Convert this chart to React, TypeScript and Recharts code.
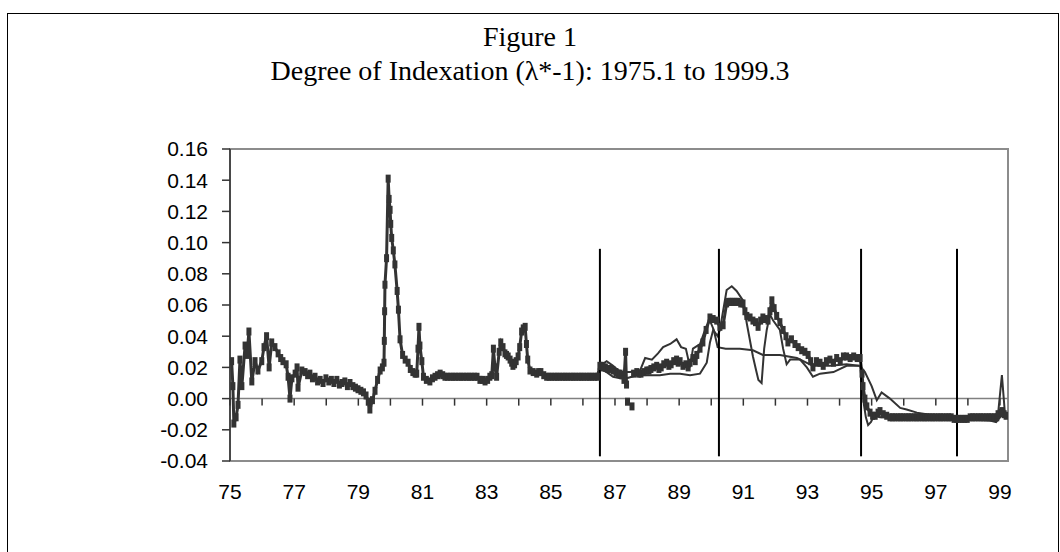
import React from "react";
import {
  LineChart,
  Line,
  XAxis,
  YAxis,
  ReferenceLine,
  ReferenceArea,
} from "recharts";

type Pt = [number, number | null];

// thick series with square markers, 1975.1-1999.3 (decimal years)
const index7579: Pt[] = [
  [1975.05, 0.024], [1975.09, 0.008], [1975.12, -0.016], [1975.19, -0.012], [1975.25, -0.004],
  [1975.31, 0.025], [1975.37, 0.008], [1975.47, 0.034], [1975.53, 0.028], [1975.59, 0.043],
  [1975.68, 0.011], [1975.78, 0.024], [1975.87, 0.018], [1975.99, 0.024], [1976.06, 0.033],
  [1976.14, 0.04], [1976.22, 0.02], [1976.3, 0.036], [1976.4, 0.033], [1976.5, 0.029],
  [1976.58, 0.026], [1976.65, 0.024], [1976.75, 0.022], [1976.81, 0.014], [1976.87, 0.0],
  [1976.93, 0.013], [1977.03, 0.016], [1977.09, 0.02], [1977.12, 0.007], [1977.24, 0.018],
  [1977.34, 0.017], [1977.42, 0.015], [1977.49, 0.016], [1977.57, 0.013], [1977.65, 0.014],
  [1977.73, 0.011], [1977.81, 0.012], [1977.9, 0.01], [1977.99, 0.013], [1978.08, 0.011],
  [1978.16, 0.012], [1978.24, 0.01], [1978.33, 0.012], [1978.41, 0.009], [1978.49, 0.01],
  [1978.58, 0.011], [1978.66, 0.008], [1978.74, 0.01], [1978.83, 0.008], [1978.91, 0.007],
  [1978.99, 0.006], [1979.08, 0.005], [1979.16, 0.004], [1979.24, 0.002], [1979.31, -0.002],
  [1979.36, -0.007], [1979.44, -0.001], [1979.52, 0.005], [1979.6, 0.012], [1979.68, 0.018],
  [1979.75, 0.02], [1979.8, 0.023],
];

const index7981: Pt[] = [
  [1979.81, 0.037], [1979.82, 0.056], [1979.83, 0.073], [1979.88, 0.09], [1979.93, 0.141],
  [1979.96, 0.128], [1979.99, 0.121], [1980.01, 0.112], [1980.04, 0.103], [1980.09, 0.095],
  [1980.14, 0.086], [1980.21, 0.069], [1980.25, 0.057], [1980.3, 0.038], [1980.38, 0.028],
  [1980.46, 0.025], [1980.55, 0.023], [1980.62, 0.019], [1980.7, 0.017], [1980.77, 0.016],
  [1980.82, 0.016], [1980.86, 0.032], [1980.89, 0.046], [1980.92, 0.034], [1980.98, 0.024],
  [1981.03, 0.014],
];

const index8186: Pt[] = [
  [1981.12, 0.012], [1981.23, 0.011], [1981.31, 0.013], [1981.39, 0.014], [1981.47, 0.015],
  [1981.55, 0.016], [1981.63, 0.015], [1981.7, 0.014], [1981.78, 0.014], [1981.87, 0.014],
  [1981.95, 0.014], [1982.03, 0.014], [1982.12, 0.014], [1982.2, 0.014], [1982.28, 0.014],
  [1982.37, 0.014], [1982.45, 0.014], [1982.53, 0.014], [1982.62, 0.014], [1982.7, 0.014],
  [1982.79, 0.012], [1982.87, 0.012], [1982.95, 0.011], [1983.03, 0.012], [1983.1, 0.014],
  [1983.16, 0.015], [1983.21, 0.032], [1983.26, 0.02], [1983.31, 0.014], [1983.39, 0.03],
  [1983.44, 0.036], [1983.51, 0.033], [1983.57, 0.029], [1983.62, 0.028], [1983.67, 0.027],
  [1983.73, 0.025], [1983.78, 0.023], [1983.82, 0.021], [1983.87, 0.022], [1983.92, 0.024],
  [1983.98, 0.027], [1984.03, 0.033], [1984.09, 0.043], [1984.14, 0.045], [1984.2, 0.046],
  [1984.24, 0.035], [1984.28, 0.025], [1984.35, 0.018], [1984.45, 0.017], [1984.56, 0.016],
  [1984.62, 0.017], [1984.69, 0.017], [1984.78, 0.015], [1984.87, 0.014], [1984.95, 0.014],
  [1985.03, 0.014], [1985.12, 0.014], [1985.2, 0.014], [1985.28, 0.014], [1985.37, 0.014],
  [1985.45, 0.014], [1985.53, 0.014], [1985.62, 0.014], [1985.7, 0.014], [1985.78, 0.014],
  [1985.87, 0.014], [1985.95, 0.014], [1986.03, 0.014], [1986.12, 0.014], [1986.2, 0.014],
  [1986.28, 0.014], [1986.37, 0.014], [1986.45, 0.014],
];

const index8690: Pt[] = [
  [1986.53, 0.021], [1986.58, 0.021], [1986.63, 0.02], [1986.7, 0.02], [1986.78, 0.019],
  [1986.86, 0.019], [1986.94, 0.018], [1987.03, 0.017], [1987.1, 0.016], [1987.16, 0.016],
  [1987.22, 0.015], [1987.28, 0.012], [1987.33, 0.03], [1987.36, 0.009], [1987.37, null],
  [1987.39, -0.002], [1987.41, null], [1987.53, -0.005], [1987.55, null], [1987.58, 0.016],
  [1987.68, 0.017], [1987.74, 0.016], [1987.81, 0.016], [1987.9, 0.017], [1987.99, 0.018],
  [1988.06, 0.018], [1988.12, 0.019], [1988.21, 0.02], [1988.3, 0.021], [1988.37, 0.019],
  [1988.44, 0.02], [1988.52, 0.022], [1988.61, 0.023], [1988.68, 0.021], [1988.75, 0.022],
  [1988.83, 0.024], [1988.92, 0.025], [1988.97, 0.023], [1989.03, 0.024], [1989.12, 0.021],
  [1989.21, 0.022], [1989.28, 0.02], [1989.34, 0.023], [1989.43, 0.026], [1989.5, 0.024],
  [1989.55, 0.028], [1989.65, 0.032], [1989.74, 0.036], [1989.84, 0.044], [1989.96, 0.052],
  [1990.06, 0.051], [1990.17, 0.05], [1990.27, 0.046], [1990.37, 0.047],
];

const index9095: Pt[] = [
  [1990.48, 0.061], [1990.54, 0.062], [1990.59, 0.062], [1990.65, 0.062], [1990.71, 0.062],
  [1990.78, 0.062], [1990.84, 0.062], [1990.92, 0.061], [1990.99, 0.061], [1991.05, 0.056],
  [1991.11, 0.053], [1991.21, 0.052], [1991.3, 0.05], [1991.38, 0.049], [1991.46, 0.046],
  [1991.54, 0.05], [1991.61, 0.052], [1991.69, 0.051], [1991.77, 0.05], [1991.83, 0.056],
  [1991.89, 0.063], [1991.96, 0.058], [1992.04, 0.053], [1992.14, 0.049], [1992.24, 0.044],
  [1992.33, 0.04], [1992.39, 0.036], [1992.5, 0.038], [1992.61, 0.035], [1992.71, 0.033],
  [1992.82, 0.031], [1992.92, 0.03], [1993.02, 0.028], [1993.1, 0.024], [1993.17, 0.02],
  [1993.28, 0.024], [1993.39, 0.023], [1993.49, 0.021], [1993.59, 0.024], [1993.7, 0.025],
  [1993.81, 0.023], [1993.91, 0.026], [1994.02, 0.024], [1994.12, 0.027], [1994.22, 0.027],
  [1994.33, 0.026], [1994.44, 0.027], [1994.55, 0.026], [1994.64, 0.026], [1994.7, 0.016],
  [1994.73, 0.008], [1994.79, 0.0], [1994.85, -0.005], [1994.95, -0.009], [1995.03, -0.011],
  [1995.11, -0.011], [1995.2, -0.009], [1995.26, -0.008], [1995.36, -0.01], [1995.47, -0.011],
  [1995.57, -0.012],
];

const index9599: Pt[] = [
  [1995.65, -0.012], [1995.73, -0.012], [1995.82, -0.012], [1995.9, -0.012], [1995.98, -0.012],
  [1996.07, -0.012], [1996.15, -0.012], [1996.23, -0.012], [1996.32, -0.012], [1996.4, -0.012],
  [1996.48, -0.012], [1996.57, -0.012], [1996.65, -0.012], [1996.73, -0.012], [1996.82, -0.012],
  [1996.9, -0.012], [1996.98, -0.012], [1997.07, -0.012], [1997.15, -0.012], [1997.23, -0.012],
  [1997.32, -0.012], [1997.4, -0.012], [1997.48, -0.012], [1997.57, -0.013], [1997.65, -0.013],
  [1997.73, -0.013], [1997.82, -0.013], [1997.9, -0.013], [1997.98, -0.013], [1998.07, -0.012],
  [1998.15, -0.012], [1998.23, -0.012], [1998.32, -0.012], [1998.4, -0.012], [1998.48, -0.012],
  [1998.57, -0.012], [1998.65, -0.012], [1998.73, -0.012], [1998.82, -0.012], [1998.9, -0.012],
  [1998.94, -0.01], [1999.02, -0.009], [1999.06, -0.008], [1999.13, -0.01], [1999.19, -0.011],
];

// thin alternative estimates, from mid-1986
const altUpper: Pt[] = [
  [1986.53, 0.021], [1986.74, 0.024], [1986.94, 0.021], [1987.16, 0.017], [1987.47, 0.017],
  [1987.78, 0.018], [1987.94, 0.026], [1988.15, 0.025], [1988.34, 0.029], [1988.5, 0.033],
  [1988.72, 0.035], [1988.92, 0.038], [1989.06, 0.033], [1989.21, 0.032], [1989.34, 0.02],
  [1989.43, 0.032], [1989.65, 0.035], [1989.84, 0.046], [1989.96, 0.05], [1990.08, 0.044],
  [1990.2, 0.033], [1990.45, 0.032], [1990.89, 0.032], [1991.3, 0.031], [1991.61, 0.028],
  [1992.14, 0.028], [1992.67, 0.026], [1993.17, 0.021], [1993.7, 0.021], [1994.22, 0.022],
  [1994.64, 0.021], [1994.79, 0.017], [1995.0, 0.008], [1995.16, -0.001], [1995.31, 0.004],
  [1995.57, 0.0], [1995.89, -0.006], [1996.09, -0.007], [1996.41, -0.009], [1996.71, -0.01],
  [1997.02, -0.011], [1997.65, -0.012], [1998.38, -0.013], [1998.79, -0.014], [1998.94, -0.01],
  [1999.06, 0.015], [1999.16, -0.011], [1999.19, -0.012],
];

const altLower: Pt[] = [
  [1986.53, 0.019], [1986.74, 0.017], [1986.94, 0.014], [1987.16, 0.013], [1987.37, 0.013],
  [1987.68, 0.015], [1987.99, 0.015], [1988.4, 0.015], [1988.72, 0.016], [1989.03, 0.016],
  [1989.34, 0.015], [1989.65, 0.016], [1989.86, 0.023], [1989.96, 0.036], [1990.06, 0.044],
  [1990.2, 0.04], [1990.27, 0.044], [1990.48, 0.0696], [1990.64, 0.072], [1990.79, 0.069],
  [1990.99, 0.063], [1991.11, 0.048], [1991.3, 0.027], [1991.4, 0.018], [1991.47, 0.012],
  [1991.57, 0.01], [1991.65, 0.032], [1991.73, 0.044], [1991.83, 0.054], [1991.93, 0.05],
  [1992.14, 0.044], [1992.24, 0.032], [1992.35, 0.022], [1992.46, 0.025], [1992.77, 0.025],
  [1992.98, 0.02], [1993.17, 0.014], [1993.39, 0.016], [1993.81, 0.017], [1994.22, 0.021],
  [1994.64, 0.021], [1994.7, 0.01], [1994.76, -0.004], [1994.82, -0.012], [1994.89, -0.017],
  [1994.98, -0.015], [1995.07, -0.011], [1995.26, -0.012], [1995.57, -0.012], [1996.51, -0.013],
  [1997.76, -0.013], [1998.69, -0.014], [1998.88, -0.015], [1999.0, -0.012], [1999.1, -0.01],
  [1999.19, -0.013],
];

const yTicks = [-0.04, -0.02, 0, 0.02, 0.04, 0.06, 0.08, 0.1, 0.12, 0.14, 0.16];
const yearTicks = [
  1975, 1976, 1977, 1978, 1979, 1980, 1981, 1982, 1983, 1984, 1985, 1986,
  1987, 1988, 1989, 1990, 1991, 1992, 1993, 1994, 1995, 1996, 1997, 1998, 1999,
];
// hand-drawn vertical markers (decimal years)
const breakDates = [1986.53, 1990.24, 1994.67, 1997.66];

const toRows = (pts: Pt[]) => pts.map(([t, v]) => ({ t, v }));
const mainRows = toRows([
  ...index7579, ...index7981, ...index8186, ...index8690, ...index9095, ...index9599,
]);
const upperRows = toRows(altUpper);
const lowerRows = toRows(altLower);

const SANS = '"Liberation Sans", Arial, sans-serif';
const SERIF = '"Liberation Serif", "Times New Roman", serif';
const INK = "#333333";

function SquareDot(props: any) {
  const { cx, cy, index } = props;
  if (cx == null || cy == null || isNaN(cy)) return <g key={`d${index}`} />;
  return (
    <rect key={`d${index}`} x={cx - 2.5} y={cy - 4} width={5} height={8} fill={INK} />
  );
}

function YearTick({ x, y, payload }: any) {
  const yr = payload.value as number;
  if (yr % 2 === 0) return <g />;
  return (
    <text x={x} y={y} dy={30} textAnchor="middle" fontSize={21} fill="#000" fontFamily={SANS}>
      {String(yr).slice(2)}
    </text>
  );
}

export default function App() {
  return (
    <div
      style={{
        position: "absolute",
        left: 0,
        top: 0,
        width: 1060,
        height: 552,
        background: "#fff",
        overflow: "hidden",
      }}
    >
      <div
        style={{
          position: "absolute",
          left: 7,
          top: 13,
          width: 1050,
          height: 600,
          border: "1.5px solid #000",
        }}
      />
      <div
        style={{
          position: "absolute",
          left: 0,
          width: 1060,
          top: 23,
          textAlign: "center",
          fontFamily: SERIF,
          fontSize: 28,
          lineHeight: "28px",
        }}
      >
        Figure 1
      </div>
      <div
        style={{
          position: "absolute",
          left: 0,
          width: 1060,
          top: 57,
          textAlign: "center",
          fontFamily: SERIF,
          fontSize: 28,
          lineHeight: "28px",
        }}
      >
        Degree of Indexation (λ*-1): 1975.1 to 1999.3
      </div>
      <div style={{ position: "absolute", left: 0, top: 0 }}>
        <LineChart
          width={1060}
          height={552}
          margin={{ top: 149, right: 52, bottom: 51, left: 170 }}
        >
          <XAxis
            dataKey="t"
            type="number"
            domain={[1975, 1999.25]}
            ticks={yearTicks}
            interval={0}
            allowDataOverflow
            axisLine={false}
            tickLine={false}
            height={40}
            tick={(p: any) => <YearTick {...p} />}
          />
          <YAxis
            type="number"
            domain={[-0.04, 0.16]}
            ticks={yTicks}
            interval={0}
            allowDataOverflow
            width={60}
            tickSize={8}
            tickMargin={14}
            axisLine={{ stroke: INK, strokeWidth: 1.5 }}
            tickLine={{ stroke: INK, strokeWidth: 1.5 }}
            tick={{ fontSize: 21, fill: "#000", fontFamily: SANS }}
            tickFormatter={(v: number) => v.toFixed(2)}
          />
          <ReferenceArea
            x1={1975}
            x2={1999.25}
            y1={-0.04}
            y2={0.16}
            fill="none"
            stroke="#8c8c8c"
            strokeWidth={2}
          />
          <ReferenceLine y={0} stroke="#808080" strokeWidth={1.5} />
          {yearTicks.map((yr) => (
            <ReferenceLine
              key={`zt${yr}`}
              segment={[
                { x: yr, y: 0 },
                { x: yr, y: -0.0045 },
              ]}
              stroke={INK}
              strokeWidth={1.5}
            />
          ))}
          <Line
            data={upperRows}
            dataKey="v"
            type="linear"
            stroke={INK}
            strokeWidth={2}
            dot={false}
            isAnimationActive={false}
          />
          <Line
            data={lowerRows}
            dataKey="v"
            type="linear"
            stroke={INK}
            strokeWidth={2}
            dot={false}
            isAnimationActive={false}
          />
          <Line
            data={mainRows}
            dataKey="v"
            type="linear"
            stroke={INK}
            strokeWidth={3}
            connectNulls={false}
            dot={(p: any) => <SquareDot key={`d${p.index}`} {...p} />}
            activeDot={false}
            isAnimationActive={false}
          />
          {breakDates.map((d) => (
            <ReferenceLine
              key={`b${d}`}
              segment={[
                { x: d, y: 0.096 },
                { x: d, y: -0.037 },
              ]}
              stroke="#000"
              strokeWidth={2}
            />
          ))}
        </LineChart>
      </div>
    </div>
  );
}
